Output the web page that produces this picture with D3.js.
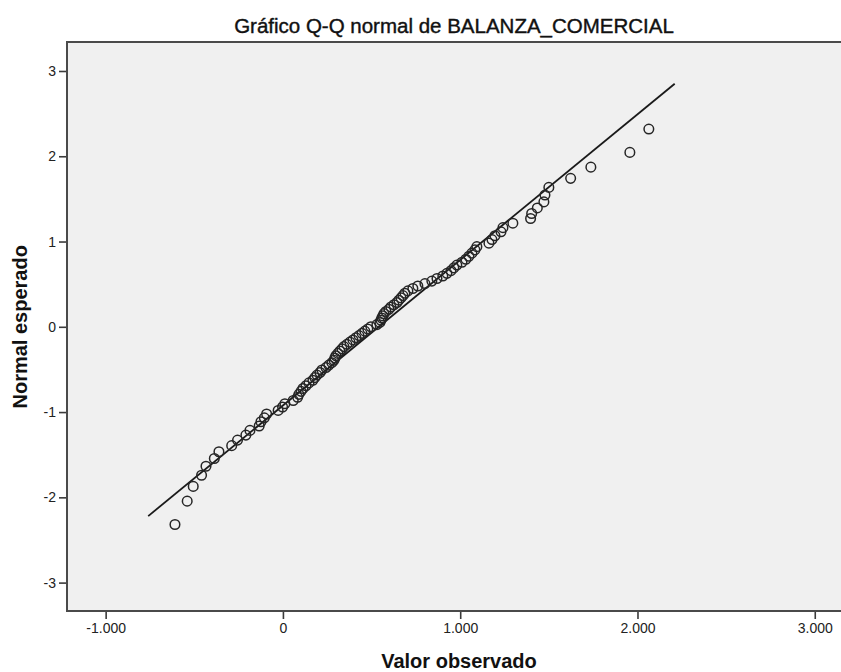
<!DOCTYPE html>
<html>
<head>
<meta charset="utf-8">
<script src="https://cdn.jsdelivr.net/npm/d3@7"></script>
<style>
  html, body { margin: 0; padding: 0; background: #ffffff; }
  svg { display: block; font-family: "Liberation Sans", Arial, sans-serif; }
</style>
</head>
<body>
<svg id="chart" width="841" height="672"></svg>
<script>
// Observed values of BALANZA_COMERCIAL, sorted ascending
const observedValues = [
  -609, -540, -506, -459, -434, -387, -361, -289, -256, -209,
  -186, -134, -124, -105, -92, -27, -2, 11, 58, 83,
  90, 102, 113, 130, 147, 169, 180, 192, 209, 220,
  243, 259, 276, 288, 293, 299, 310, 321, 333, 344,
  361, 378, 395, 412, 429, 446, 462, 479, 496, 530,
  547, 553, 558, 564, 570, 581, 598, 609, 626, 643,
  654, 666, 677, 688, 705, 733, 761, 801, 840, 869,
  902, 925, 948, 964, 981, 1010, 1032, 1049, 1066, 1083,
  1094, 1162, 1179, 1196, 1230, 1241, 1297, 1397, 1403, 1435,
  1472, 1478, 1500, 1623, 1737, 1957, 2064
];

// Expected normal score for each observation (same order)
const expectedNormal = [
  -2.319, -2.045, -1.872, -1.741, -1.635, -1.545, -1.465, -1.394, -1.329, -1.270,
  -1.215, -1.163, -1.114, -1.068, -1.023, -0.981, -0.940, -0.902, -0.864, -0.827,
  -0.792, -0.757, -0.724, -0.691, -0.658, -0.627, -0.596, -0.566, -0.536, -0.507,
  -0.478, -0.449, -0.421, -0.393, -0.366, -0.339, -0.312, -0.285, -0.259, -0.232,
  -0.206, -0.180, -0.154, -0.128, -0.103, -0.077, -0.051, -0.026, 0.000, 0.026,
  0.051, 0.077, 0.103, 0.128, 0.154, 0.180, 0.206, 0.232, 0.259, 0.285,
  0.312, 0.339, 0.366, 0.393, 0.421, 0.449, 0.478, 0.507, 0.536, 0.566,
  0.596, 0.627, 0.658, 0.691, 0.724, 0.757, 0.792, 0.827, 0.864, 0.902,
  0.940, 0.981, 1.023, 1.068, 1.114, 1.163, 1.215, 1.270, 1.329, 1.394,
  1.465, 1.545, 1.635, 1.741, 1.872, 2.045, 2.319
];

// Reference normal line endpoints (observed value, expected normal)
const refLineX = [-760, 2210];
const refLineY = [-2.22, 2.85];

// Axis ticks
const xTicks = [-1000, 0, 1000, 2000, 3000];
const yTicks = [-3, -2, -1, 0, 1, 2, 3];

const titleText = "Gráfico Q-Q normal de BALANZA_COMERCIAL";
const xTitle = "Valor observado";
const yTitle = "Normal esperado";

// Spanish number formatting: "." as thousands separator, plain hyphen minus
const locale = d3.formatLocale({
  decimal: ",", thousands: ".", grouping: [3], currency: ["", ""], minus: "-"
});
const fmtX = locale.format(",d");
const fmtY = locale.format("d");

const svg = d3.select("#chart");
const plot = { left: 67, top: 42, right: 841, bottom: 611 };

const x = d3.scaleLinear().domain([-1218, 3148]).range([plot.left, plot.right]);
const y = d3.scaleLinear().domain([-3.333, 3.340]).range([plot.bottom, plot.top]);

// Plot background
svg.append("rect")
  .attr("x", plot.left).attr("y", plot.top)
  .attr("width", plot.right - plot.left + 10)
  .attr("height", plot.bottom - plot.top)
  .attr("fill", "#f0f0f0");

// Reference line
const pts = refLineX.map((d, i) => [d, refLineY[i]]);
svg.append("path")
  .attr("d", d3.line().x(d => x(d[0])).y(d => y(d[1]))(pts))
  .attr("fill", "none")
  .attr("stroke", "#1a1a1a")
  .attr("stroke-width", 1.8);

// Points
svg.append("g")
  .selectAll("circle")
  .data(observedValues.map((v, i) => [v, expectedNormal[i]]))
  .join("circle")
  .attr("cx", d => x(d[0]))
  .attr("cy", d => y(d[1]))
  .attr("r", 4.8)
  .attr("fill", "none")
  .attr("stroke", "#262626")
  .attr("stroke-width", 1.5);

// Axes
const xAxis = d3.axisBottom(x).tickValues(xTicks).tickFormat(fmtX).tickSize(8).tickPadding(4);
const yAxis = d3.axisLeft(y).tickValues(yTicks).tickFormat(fmtY).tickSize(8).tickPadding(3);

const gx = svg.append("g").attr("transform", `translate(0,${plot.bottom})`).call(xAxis);
const gy = svg.append("g").attr("transform", `translate(${plot.left},0)`).call(yAxis);

[gx, gy].forEach(g => {
  g.select(".domain").remove();
  g.selectAll(".tick line").attr("stroke", "#3a3a3a").attr("stroke-width", 1.6);
  g.selectAll(".tick text")
    .attr("fill", "#222")
    .style("font-size", "14px")
    .style("font-family", "'Liberation Sans', Arial, sans-serif");
});

// Frame: left, top and bottom borders
svg.append("path")
  .attr("d", `M${plot.right + 10},${plot.top}H${plot.left}V${plot.bottom}H${plot.right + 10}`)
  .attr("fill", "none")
  .attr("stroke", "#4a4a4a")
  .attr("stroke-width", 2);

// Title
svg.append("text")
  .attr("x", 454).attr("y", 33)
  .attr("text-anchor", "middle")
  .attr("fill", "#111")
  .attr("stroke", "#111")
  .attr("stroke-width", 0.4)
  .style("font-size", "20.5px")
  .text(titleText);

// Axis titles
svg.append("text")
  .attr("x", 459).attr("y", 668)
  .attr("text-anchor", "middle")
  .attr("fill", "#111")
  .style("font-size", "20px")
  .style("font-weight", "bold")
  .text(xTitle);

svg.append("text")
  .attr("transform", `translate(27,${y(0)}) rotate(-90)`)
  .attr("text-anchor", "middle")
  .attr("fill", "#111")
  .style("font-size", "20px")
  .style("font-weight", "bold")
  .text(yTitle);
</script>
</body>
</html>
